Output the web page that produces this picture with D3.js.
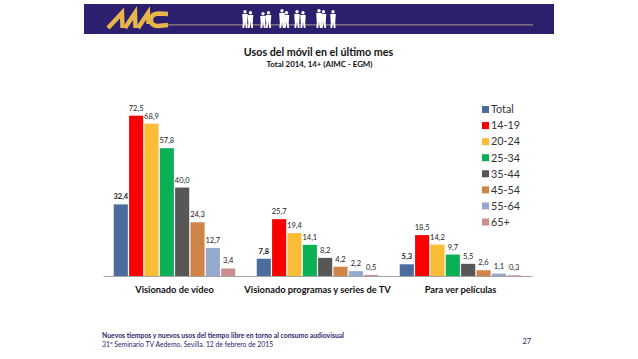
<!DOCTYPE html>
<html>
<head>
<meta charset="utf-8">
<script src="https://cdn.jsdelivr.net/npm/d3@7"></script>
<style>
  html, body { margin: 0; background: #fff; }
  svg { display: block; font-family: Lato, "Open Sans", sans-serif; }
</style>
</head>
<body>
<div class="canvas"></div>
<script>
const categories = ["Visionado de vídeo", "Visionado programas y series de TV", "Para ver películas"];
const seriesNames = ["Total", "14-19", "20-24", "25-34", "35-44", "45-54", "55-64", "65+"];
const seriesColors = ["#4a6d9e", "#fa0000", "#fbbc38", "#0aaf56", "#575757", "#cf8448", "#94a9cc", "#cc8f90"];
const videoValues = [32.4, 72.5, 68.9, 57.8, 40.0, 24.3, 12.7, 3.4];
const programasValues = [7.8, 25.7, 19.4, 14.1, 8.2, 4.2, 2.2, 0.5];
const peliculasValues = [5.3, 18.5, 14.2, 9.7, 5.5, 2.6, 1.1, 0.3];
const groupValues = [videoValues, programasValues, peliculasValues];

const width = 638, height = 359;
const svg = d3.select(".canvas").append("svg")
    .attr("width", width)
    .attr("height", height);

// header band
svg.append("rect").attr("x", 84).attr("y", 4).attr("width", 470).attr("height", 30).attr("fill", "#2c1f6e");
svg.append("rect").attr("x", 165).attr("y", 24).attr("width", 368).attr("height", 1.6).attr("fill", "#7f6c82");

// AIMC logo, drawn by hand since the letters are stylised
const logo = svg.append("g").attr("fill", "none").attr("stroke", "#e8b54a").attr("stroke-width", 4.4);
logo.append("path").attr("d", "M108,28 L122,13 L122.5,28");
logo.append("path").attr("d", "M125,28 L135,13 L135.5,28");
logo.append("path").attr("d", "M138,28 L148,13 L148.5,24");
logo.append("path").attr("d", "M168,14 L158,13.5 Q151,14 151,20 Q151,26 158,26 L168,25");

// little people in the header
const peopleX = [245, 250.5, 263, 268.5, 282, 286.5, 297, 303, 319, 323.5, 333];
const peopleHeight = [18, 17, 16, 17, 19, 17, 18, 17, 19, 18, 18];
const people = svg.append("g").attr("fill", "#fff");
peopleX.forEach((px, i) => {
    const top = 28 - peopleHeight[i];
    people.append("circle").attr("cx", px).attr("cy", top + 1.7).attr("r", 1.7);
    people.append("path").attr("d", "M" + (px - 2.8) + "," + (top + 4)
        + " h5.6 l-0.6," + (peopleHeight[i] * 0.5)
        + " l0.4," + (peopleHeight[i] * 0.5 - 4)
        + " h-1.8 l-0.8,-6 l-0.8,6 h-1.8 l0.4," + (-(peopleHeight[i] * 0.5 - 4))
        + " z");
});

// titles
svg.append("text").attr("x", 318.5).attr("y", 55.5).attr("text-anchor", "middle")
    .attr("font-size", 10.7).attr("font-weight", 700).attr("fill", "#111").text("Usos del móvil  en el último  mes");
svg.append("text").attr("x", 319.5).attr("y", 67).attr("text-anchor", "middle")
    .attr("font-size", 7.9).attr("font-weight", 700).attr("fill", "#111").text("Total  2014, 14+ (AIMC - EGM)");

// chart scales
const x0 = d3.scaleBand().domain(categories).range([103, 532]);
const x1 = d3.scaleBand().domain(seriesNames).range([0, x0.bandwidth()]).paddingOuter(0.7).paddingInner(0.08);
const y = d3.scaleLinear().domain([0, 72.5]).range([276, 115.7]);

const groups = svg.selectAll("g.group")
    .data(categories)
    .join("g")
    .attr("class", "group")
    .attr("transform", d => "translate(" + x0(d) + ",0)");

const cells = groups.selectAll("g.cell")
    .data((d, i) => groupValues[i].map((v, j) => ({ name: seriesNames[j], color: seriesColors[j], value: v })))
    .join("g")
    .attr("class", "cell");

cells.append("rect")
    .attr("x", d => x1(d.name))
    .attr("y", d => y(d.value))
    .attr("width", x1.bandwidth())
    .attr("height", d => y(0) - y(d.value))
    .attr("fill", d => d.color);

cells.append("text")
    .attr("x", d => x1(d.name) + x1.bandwidth() / 2)
    .attr("y", d => y(d.value) - 5)
    .attr("text-anchor", "middle")
    .attr("font-size", 7.5)
    .attr("font-weight", d => d.name === "Total" ? 700 : 400)
    .attr("fill", "#222")
    .text(d => d.value.toFixed(1).replace(".", ","));

// axis
const xAxis = d3.axisBottom(x0).tickSize(0).tickPadding(10);
const xAxisGroup = svg.append("g").attr("transform", "translate(0,276)").call(xAxis);
xAxisGroup.select(".domain").attr("stroke", "#8c8c8c").attr("stroke-width", 0.8);
xAxisGroup.selectAll("text")
    .attr("font-family", "Lato").attr("font-size", 9.3).attr("font-weight", 700).attr("fill", "#111");

// legend
const legendY = d3.scalePoint().domain(seriesNames).range([109.5, 222]);
const legend = svg.selectAll("g.legend")
    .data(seriesNames)
    .join("g")
    .attr("class", "legend")
    .attr("transform", d => "translate(482," + legendY(d) + ")");
legend.append("rect").attr("x", 0).attr("y", -3.5).attr("width", 7).attr("height", 7)
    .attr("fill", (d, i) => seriesColors[i]);
legend.append("text").attr("x", 9).attr("y", 3.8)
    .attr("font-size", 10.8).attr("fill", "#333").text(d => d);

// footer
svg.append("text").attr("x", 102).attr("y", 337.5).attr("font-size", 6.85)
    .attr("font-weight", 700).attr("fill", "#2c1f6e")
    .text("Nuevos tiempos y nuevos usos del tiempo libre en torno al consumo audiovisual");
svg.append("text").attr("x", 102).attr("y", 346.5).attr("font-size", 6.8)
    .attr("fill", "#2c1f6e")
    .text("31º Seminario TV Aedemo. Sevilla. 12 de febrero de 2015");
svg.append("text").attr("x", 522.5).attr("y", 343.5).attr("font-size", 7.5)
    .attr("fill", "#2c1f6e").text("27");
</script>
</body>
</html>
